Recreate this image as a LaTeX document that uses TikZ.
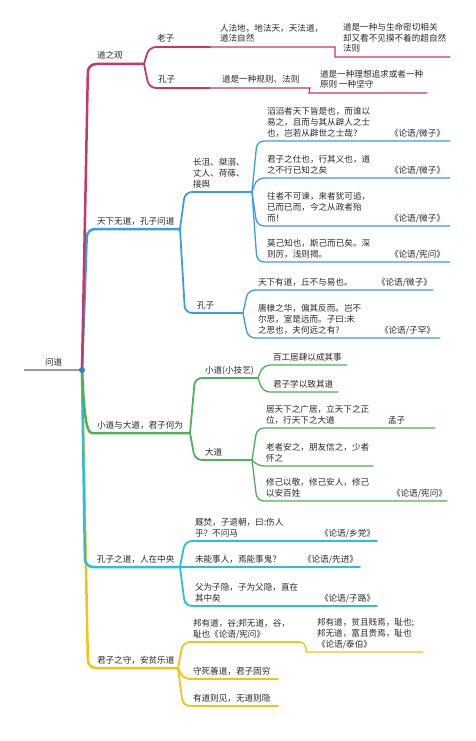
\documentclass[tikz,border=0pt]{standalone}
\usepackage{fontspec}
\setmainfont{Noto Sans CJK SC}
\definecolor{cC}{HTML}{C4386E}
\definecolor{cB}{HTML}{3C9EDC}
\definecolor{cG}{HTML}{4DB158}
\definecolor{cT}{HTML}{2BC0D6}
\definecolor{cY}{HTML}{F2C31B}
\definecolor{cgray}{HTML}{9A9A9A}
\definecolor{txt}{HTML}{2A2A2A}
\definecolor{cdot}{HTML}{2E7DD6}
\tikzset{
 main/.style={line width=2.5pt, rounded corners=8pt, line cap=round},
 mid/.style={line width=1.8pt, rounded corners=7pt, line cap=round},
 leaf/.style={line width=1.3pt, rounded corners=7pt, line cap=round},
 lbl/.style={anchor=south west, inner sep=0pt, outer sep=0pt, align=left, text=txt,
   font=\fontsize{8.6}{10.6}\selectfont, text depth=1pt},
}
\begin{document}
\begin{tikzpicture}[x=1pt,y=-1pt]
\fill[white] (0,0) rectangle (475,741);
\useasboundingbox (0,0) rectangle (475,741);
% ---------- coordinates ----------
\coordinate (dot) at (82,370);
\coordinate (rootL) at (24,370);
\coordinate (s1) at (144,64);
\coordinate (lz) at (210,47);
\coordinate (lz1) at (328,47);
\coordinate (lz2a) at (342,57);
\coordinate (lz2) at (450,57);
\coordinate (kz) at (210,88);
\coordinate (kz1) at (303,88);
\coordinate (kz2a) at (316,93);
\coordinate (kz2) at (427,93);
\coordinate (s2) at (180,229);
\coordinate (s3) at (252,192);
\coordinate (s4) at (243,313);
\coordinate (ea) at (450,141);
\coordinate (eb) at (450,178);
\coordinate (ec) at (450,226);
\coordinate (ed) at (450,262);
\coordinate (ee) at (433,290);
\coordinate (ef) at (440,338);
\coordinate (s5) at (190,433);
\coordinate (s6) at (258,378);
\coordinate (s7) at (252,460);
\coordinate (e61) at (347,365);
\coordinate (e62) at (338,392);
\coordinate (eg) at (373,428);
\coordinate (eg2) at (435,428);
\coordinate (eh) at (373,466);
\coordinate (ei) at (373,501);
\coordinate (ei2) at (447,501);
\coordinate (s8) at (180,567);
\coordinate (ej) at (377,541);
\coordinate (ek) at (360,567);
\coordinate (el) at (377,606);
\coordinate (s9) at (178,668);
\coordinate (em) at (300,642);
\coordinate (em2a) at (313,652);
\coordinate (em2) at (423,652);
\coordinate (en) at (278,679);
\coordinate (eo) at (278,706);
% ---------- connectors ----------
\draw[cgray, line width=1.2pt] (rootL) -- (dot);
% yellow
\draw[cY,main] (dot) -- ([xshift=6pt]dot|-s9) -- (s9);
\draw[cY,mid] (s9) -- ([xshift=5pt]s9|-em) -- (em);
\draw[cY,leaf] (em) to[out=0,in=180] (em2a) -- (em2);
\draw[cY,mid] (s9) -- ([xshift=5pt]s9|-en) -- (en);
\draw[cY,mid] (s9) -- ([xshift=5pt]s9|-eo) -- (eo);
% cyan
\draw[cT,main] (dot) -- ([xshift=3pt]dot|-s8) -- (s8);
\draw[cT,mid] (s8) -- ([xshift=5pt]s8|-ej) -- (ej);
\draw[cT,mid] (s8) -- (ek);
\draw[cT,mid] (s8) -- ([xshift=5pt]s8|-el) -- (el);
% green
\draw[cG,main] (dot) .. controls (84,412) and (86,433) .. (100,433) -- (s5);
\draw[cG,mid] (s5) -- ([xshift=5pt]s5|-s6) -- (s6);
\draw[cG,mid] (s5) -- ([xshift=5pt]s5|-s7) -- (s7);
\draw[cG,leaf] (s6) -- ([xshift=5pt]s6|-e61) -- (e61);
\draw[cG,leaf] (s6) -- ([xshift=5pt]s6|-e62) -- (e62);
\draw[cG,leaf] (s7) -- ([xshift=5pt]s7|-eg) -- (eg) -- (eg2);
\draw[cG,leaf] (s7) -- ([xshift=5pt]s7|-eh) -- (eh);
\draw[cG,leaf] (s7) -- ([xshift=5pt]s7|-ei) -- (ei) -- (ei2);
% blue
\draw[cB,main] (dot) -- ([xshift=5pt]dot|-s2) -- (s2);
\draw[cB,mid] (s2) -- ([xshift=5pt]s2|-s3) -- (s3);
\draw[cB,mid] (s2) -- ([xshift=5pt]s2|-s4) -- (s4);
\draw[cB,leaf] (s3) -- ([xshift=5pt]s3|-ea) -- (ea);
\draw[cB,leaf] (s3) -- ([xshift=5pt]s3|-eb) -- (eb);
\draw[cB,leaf] (s3) -- ([xshift=5pt]s3|-ec) -- (ec);
\draw[cB,leaf] (s3) -- ([xshift=5pt]s3|-ed) -- (ed);
\draw[cB,leaf] (s4) -- ([xshift=5pt]s4|-ee) -- (ee);
\draw[cB,leaf] (s4) -- ([xshift=5pt]s4|-ef) -- (ef);
% crimson
\draw[cC,main] (dot) -- ([xshift=6pt]dot|-s1) -- (s1);
\draw[cC,mid] (s1) -- ([xshift=5pt]s1|-lz) -- (lz);
\draw[cC,leaf] (lz) -- (lz1) to[out=0,in=180] (lz2a) -- (lz2);
\draw[cC,mid] (s1) -- ([xshift=5pt]s1|-kz) -- (kz);
\draw[cC,leaf] (kz) -- (kz1) to[out=0,in=180] (kz2a) -- (kz2);
% dot
\node[circle, fill=cdot, inner sep=0pt, minimum size=6pt] (dotn) at (dot) {};
% ---------- labels ----------
\node[lbl] (root) at (45,366) {问道};
\node[lbl] (n1) at (97,60) {道之观};
\node[lbl] (laozi) at (157,43) {老子};
\node[lbl] (lzt) at (220,43) {人法地，地法天，天法道，\\道法自然};
\node[lbl] (lzt2) at (343,53) {道是一种与生命密切相关\\却又看不见摸不着的超自然\\法则};
\node[lbl] (kongzi1) at (158,84) {孔子};
\node[lbl] (kzt) at (222,84) {道是一种规则、法则};
\node[lbl] (kzt2) at (320,89) {道是一种理想追求或者一种\\原则 一种坚守};
\node[lbl] (n2) at (97,225) {天下无道，孔子问道};
\node[lbl] (cj) at (193,188) {长沮、桀溺、\\丈人、荷蓧、\\接舆};
\node[lbl] (kongzi2) at (197,309) {孔子};
\node[lbl] (ta) at (267,137) {滔滔者天下皆是也，而谁以\\易之，且而与其从辟人之士\\也，岂若从辟世之士哉？};
\node[lbl] (ca) at (390,137) {《论语/微子》};
\node[lbl] (tb) at (267,174) {君子之仕也，行其义也，道\\之不行已知之矣};
\node[lbl] (cb) at (390,174) {《论语/微子》};
\node[lbl] (tc) at (267,222) {往者不可谏，来者犹可追，\\已而已而，今之从政者殆\\而！};
\node[lbl] (cc) at (390,222) {《论语/微子》};
\node[lbl] (td) at (267,258) {莫己知也，斯己而已矣。深\\则厉，浅则揭。};
\node[lbl] (cd) at (390,258) {《论语/宪问》};
\node[lbl] (te) at (258,286) {天下有道，丘不与易也。};
\node[lbl] (ce) at (377,286) {《论语/微子》};
\node[lbl] (tf) at (258,334) {唐棣之华，偏其反而。岂不\\尔思，室是远而。子曰:未\\之思也，夫何远之有?};
\node[lbl] (cf) at (380,334) {《论语/子罕》};
\node[lbl] (n3) at (97,429) {小道与大道，君子何为};
\node[lbl] (xd) at (205,374) {小道(小技艺)};
\node[lbl] (dd) at (205,456) {大道};
\node[lbl] (t61) at (273,361) {百工居肆以成其事};
\node[lbl] (t62) at (273,388) {君子学以致其道};
\node[lbl] (tg) at (266,424) {居天下之广居，立天下之正\\位，行天下之大道};
\node[lbl] (mz) at (388,424) {孟子};
\node[lbl] (th) at (266,462) {老者安之，朋友信之，少者\\怀之};
\node[lbl] (ti) at (266,497) {修己以敬，修己安人，修己\\以安百姓};
\node[lbl] (ci) at (392,497) {《论语/宪问》};
\node[lbl] (n4) at (97,563) {孔子之道，人在中央};
\node[lbl] (tj) at (195,537) {厩焚，子退朝，曰:伤人\\乎？不问马};
\node[lbl] (cj2) at (320,537) {《论语/乡党》};
\node[lbl] (tk) at (195,563) {未能事人，焉能事鬼？};
\node[lbl] (ck) at (303,563) {《论语/先进》};
\node[lbl] (tl) at (195,602) {父为子隐，子为父隐，直在\\其中矣};
\node[lbl] (cl) at (320,602) {《论语/子路》};
\node[lbl] (n5) at (97,664) {君子之守，安贫乐道};
\node[lbl] (tm) at (193,638) {邦有道，谷;邦无道，谷，\\耻也《论语/宪问》};
\node[lbl] (tm2) at (317,648) {邦有道，贫且贱焉，耻也;\\邦无道，富且贵焉，耻也\\《论语/泰伯》};
\node[lbl] (tn) at (193,675) {守死善道，君子固穷};
\node[lbl] (to) at (193,702) {有道则见，无道则隐};
\end{tikzpicture}
\end{document}
